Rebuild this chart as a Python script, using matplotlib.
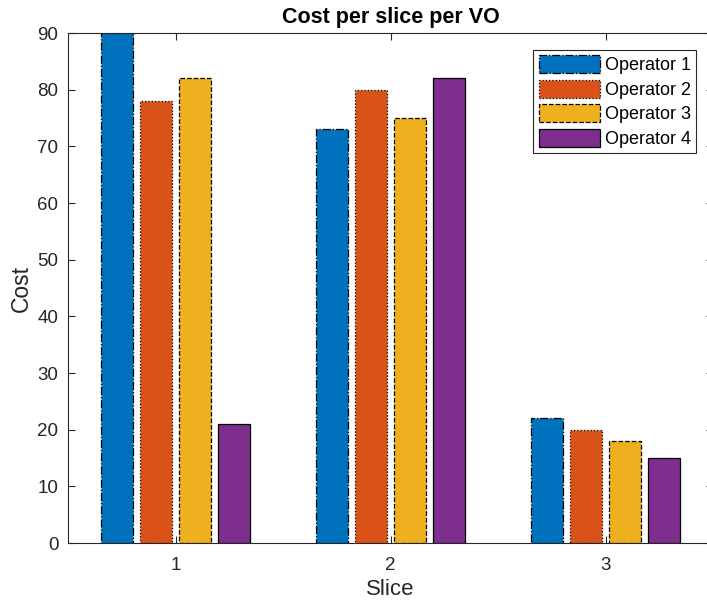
import matplotlib.pyplot as plt
import numpy as np

plt.rcParams["font.family"] = ["Liberation Sans", "DejaVu Sans"]

slices = [1, 2, 3]
operators = ["Operator 1", "Operator 2", "Operator 3", "Operator 4"]
op1 = [90, 73, 22]
op2 = [78, 80, 20]
op3 = [82, 75, 18]
op4 = [21, 82, 15]
values = [op1, op2, op3, op4]

colors = ["#0072BD", "#D95319", "#EDB120", "#7E2F8E"]
styles = ["-.", ":", "--", "-"]

fig = plt.figure(figsize=(7.07, 6.08), dpi=100)
ax = fig.add_axes([68 / 707, 65 / 608, 645 / 707, 510 / 608])

x = np.array(slices, dtype=float)
stride = 0.1825
width = 0.15
for i, (vals, c, ls, name) in enumerate(zip(values, colors, styles, operators)):
    ax.bar(x + (i - 1.5) * stride, vals, width, color=c, edgecolor="black",
           linestyle=ls, linewidth=0.9, label=name)

ax.set_xlim(0.5, 3.5)
ax.set_ylim(0, 90)
ax.set_xticks(slices)
ax.set_yticks(range(0, 91, 10))
ax.tick_params(direction="in", length=5, width=0.8, colors="#262626",
               labelsize=13.5, top=True, right=True)
ax.tick_params(axis="x", pad=10)
ax.tick_params(axis="y", pad=7)
for s in ax.spines.values():
    s.set_color("#262626")
    s.set_linewidth(0.8)

ax.set_title("Cost per slice per VO", fontsize=15.5, fontweight="bold", pad=7)
ax.set_xlabel("Slice", fontsize=16, color="#262626", labelpad=4)
ax.set_ylabel("Cost", fontsize=16.5, color="#262626", labelpad=3)

leg = ax.legend(loc="upper right", fontsize=13, fancybox=False,
                edgecolor="#262626", framealpha=1, borderpad=0.3,
                handlelength=3.4, handleheight=1.15, handletextpad=0.25,
                labelspacing=0.3, borderaxespad=0)
leg.get_frame().set_linewidth(0.8)
leg.set_bbox_to_anchor(((696 - 68) / 645, 1 - 17 / 510), transform=ax.transAxes)

fig.savefig("out.png", dpi=100)
